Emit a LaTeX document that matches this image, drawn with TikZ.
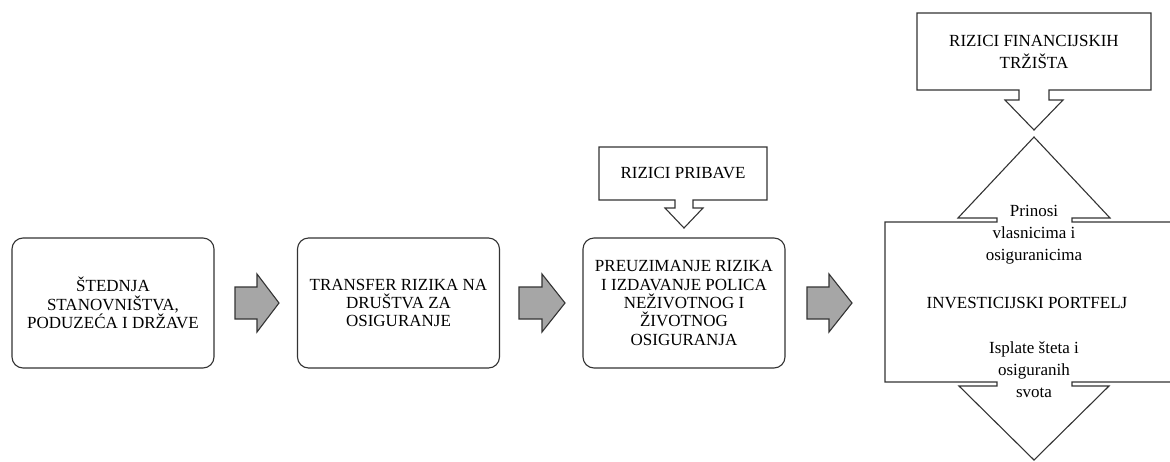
\documentclass[tikz,border=0pt]{standalone}
\usepackage{fontspec}
\setmainfont{Liberation Serif}
\begin{document}
\begin{tikzpicture}[x=1pt,y=-1pt,
  line/.style={draw=black!80,line width=1.1pt,line join=miter},
  rbox/.style={line,rounded corners=11pt,minimum width=202pt,minimum height=130pt,inner sep=0pt},
  txt/.style={align=center,inner sep=0pt,font=\fontsize{17}{18.4}\selectfont},
  txtw/.style={align=center,inner sep=0pt,font=\fontsize{17}{22}\selectfont},
  garrow/.style={line,fill=black!35}]
\useasboundingbox (0,0) rectangle (1170,461);
% main boxes
\node[rbox] (b1) at (113,303) {};
\node[rbox] (b2) at (398.5,303) {};
\node[rbox] (b3) at (684,303) {};
\node[txt] (t1) at (b1) {ŠTEDNJA\\STANOVNIŠTVA,\\PODUZEĆA I DRŽAVE};
\node[txt] (t2) at (b2) {TRANSFER RIZIKA NA\\DRUŠTVA ZA\\OSIGURANJE};
\node[txt] (t3) at (b3) {PREUZIMANJE RIZIKA\\I IZDAVANJE POLICA\\NEŽIVOTNOG I\\ŽIVOTNOG\\OSIGURANJA};
% grey block arrows
\draw[garrow] (235,287) -- (257,287) -- (257,274) -- (279,303) -- (257,332) -- (257,319) -- (235,319) -- cycle;
\draw[garrow] (519,287) -- (542,287) -- (542,274) -- (565,303) -- (542,332) -- (542,319) -- (519,319) -- cycle;
\draw[garrow] (807,287) -- (829,287) -- (829,274) -- (852,303) -- (829,332) -- (829,319) -- (807,319) -- cycle;
% rizici pribave callout
\draw[line] (599,147) -- (767,147) -- (767,200) -- (693,200) -- (693,208) -- (703,208) -- (684,228) -- (665,208) -- (675,208) -- (675,200) -- (599,200) -- cycle;
\node[txt] (rp) at (683,173) {RIZICI PRIBAVE};
% rizici financijskih trzista callout
\draw[line] (917,13) -- (1151,13) -- (1151,90) -- (1049,90) -- (1049,100) -- (1063,100) -- (1034,130) -- (1005,100) -- (1019,100) -- (1019,90) -- (917,90) -- cycle;
\node[txtw] (rf) at (1034,52) {RIZICI FINANCIJSKIH\\TRŽIŠTA};
% investment portfolio box with arrows
\draw[line] (1172,222) -- (1072,222) -- (1072,218) -- (1110,218) -- (1034,137) -- (958,218) -- (997,218) -- (997,222) -- (885,222) -- (885,382) -- (997,382) -- (997,386) -- (959,386) -- (1034,460) -- (1109,386) -- (1072,386) -- (1072,382) -- (1172,382);
\node[txtw] (pr) at (1034,235) {Prinosi\\vlasnicima i\\osiguranicima};
\node[txt] (ip) at (1027,303) {INVESTICIJSKI PORTFELJ};
\node[txtw] (is) at (1034,370) {Isplate šteta i\\osiguranih\\svota};
\end{tikzpicture}
\end{document}
